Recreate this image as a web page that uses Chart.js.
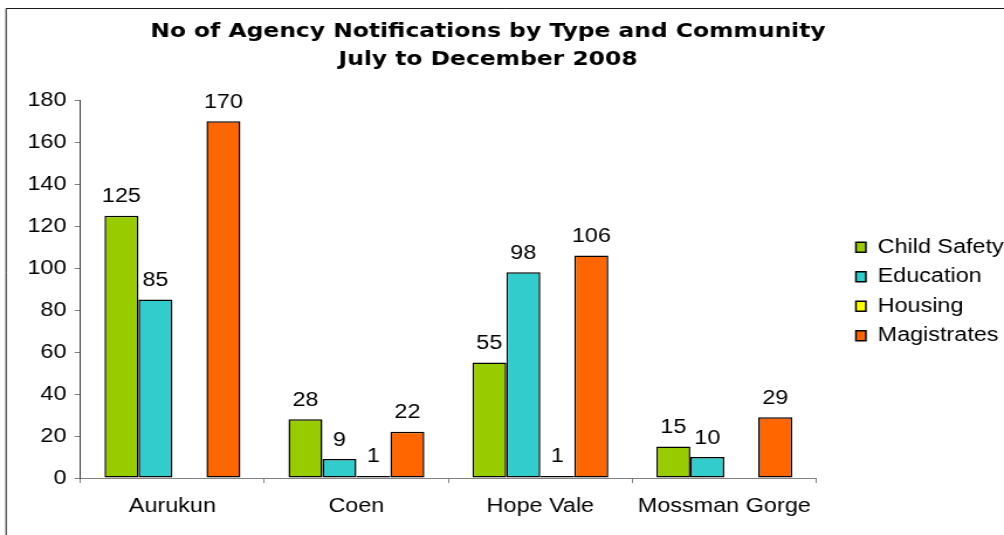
<!DOCTYPE html>
<html><head><meta charset="utf-8">
<script src="https://cdn.jsdelivr.net/npm/chart.js@4"></script>
<style>html,body{margin:0;padding:0;background:#fff;overflow:hidden}</style>
</head><body>
<canvas id="c" width="858" height="535" style="display:block;width:1004px;height:535px"></canvas>
<script>
const categories = ['Aurukun', 'Coen', 'Hope Vale', 'Mossman Gorge'];
const seriesNames = ['Child Safety', 'Education', 'Housing', 'Magistrates'];
const childSafety = [125, 28, 55, 15];
const education = [85, 9, 98, 10];
const housing = [0, 1, 1, 0];
const magistrates = [170, 22, 106, 29];
const seriesColors = ['#99CC00', '#33CCCC', '#FFFF00', '#FF6600'];
const yMin = 0, yMax = 180, yStep = 20;
const titleLines = ['No of Agency Notifications by Type and Community', 'July to December 2008'];

const LEGEND_GAP = 13.6;
const LEGEND_SHIFT_X = 24.4;
const LEGEND_SHIFT_Y = 27;
const TITLE_SHIFT = 19.7;
const LABEL_GAP = 13.5;

const tweaks = {
  id: 'tweaks',
  beforeUpdate(chart) {
    const lg = chart.legend;
    if (lg && !lg._patched) {
      const fit = lg.fit.bind(lg);
      lg.fit = function () { fit(); this.width += LEGEND_GAP; };
      lg._patched = true;
    }
  },
  afterLayout(chart) {
    const lg = chart.legend;
    if (lg) {
      lg.left += LEGEND_SHIFT_X; lg.right += LEGEND_SHIFT_X;
      lg.top += LEGEND_SHIFT_Y; lg.bottom += LEGEND_SHIFT_Y;
    }
    const t = chart.titleBlock;
    if (t) { t.left -= TITLE_SHIFT; t.right -= TITLE_SHIFT; }
  },
  beforeDraw(chart) {
    const ctx = chart.ctx;
    ctx.save();
    ctx.strokeStyle = '#1a1a1a';
    ctx.lineWidth = 1;
    ctx.beginPath();
    ctx.moveTo(5.2, chart.height + 2);
    ctx.lineTo(5.2, 8.5);
    ctx.lineTo(chart.width + 2, 8.5);
    ctx.stroke();
    ctx.restore();
  },
  afterDatasetsDraw(chart) {
    const ctx = chart.ctx;
    ctx.save();
    ctx.font = '20px "Liberation Sans"';
    ctx.fillStyle = '#000';
    ctx.textAlign = 'center';
    ctx.textBaseline = 'alphabetic';
    chart.data.datasets.forEach((ds, i) => {
      const meta = chart.getDatasetMeta(i);
      meta.data.forEach((bar, j) => {
        const v = ds.data[j];
        if (!v) return;
        ctx.fillText(String(v), bar.x, bar.y - LABEL_GAP);
      });
    });
    ctx.restore();
  }
};

const seriesData = [childSafety, education, housing, magistrates];
Chart.defaults.font.family = '"Liberation Sans", Arial, sans-serif';
Chart.defaults.color = '#000';

const canvas = document.getElementById('c');
new Chart(canvas, {
  type: 'bar',
  data: {
    labels: categories,
    datasets: seriesNames.map((name, i) => ({
      label: name,
      data: seriesData[i],
      backgroundColor: seriesColors[i],
      borderColor: '#000',
      borderWidth: 1.5,
      borderSkipped: false,
      categoryPercentage: 0.739,
      barPercentage: 1
    }))
  },
  options: {
    responsive: false,
    animation: false,
    devicePixelRatio: 1,
    layout: { padding: { left: 16.4, right: 1, top: 0, bottom: 6 } },
    plugins: {
      title: {
        display: true,
        text: titleLines,
        color: '#000',
        font: { family: '"DejaVu Sans"', weight: 'bold', size: 20, lineHeight: 1.38 },
        padding: { top: 18, bottom: 27 }
      },
      legend: {
        position: 'right',
        align: 'center',
        labels: {
          boxWidth: 8.5,
          boxHeight: 10,
          padding: 9.5,
          color: '#000',
          font: { size: 20 }
        }
      },
      tooltip: { enabled: false }
    },
    scales: {
      x: {
        grid: { display: true, drawOnChartArea: false, drawTicks: true, tickLength: 5, color: '#808080', offset: true },
        border: { color: '#808080', width: 1 },
        ticks: { padding: 11, color: '#000', font: { size: 20 }, maxRotation: 0, autoSkip: false }
      },
      y: {
        min: yMin, max: yMax,
        grid: { display: true, drawOnChartArea: false, drawTicks: true, tickLength: 5, color: '#808080' },
        border: { color: '#404040', width: 1 },
        ticks: { stepSize: yStep, padding: 7, color: '#000', font: { size: 20 } }
      }
    }
  },
  plugins: [tweaks]
});
canvas.style.width = '1004px';
canvas.style.height = '535px';
</script>
</body></html>
